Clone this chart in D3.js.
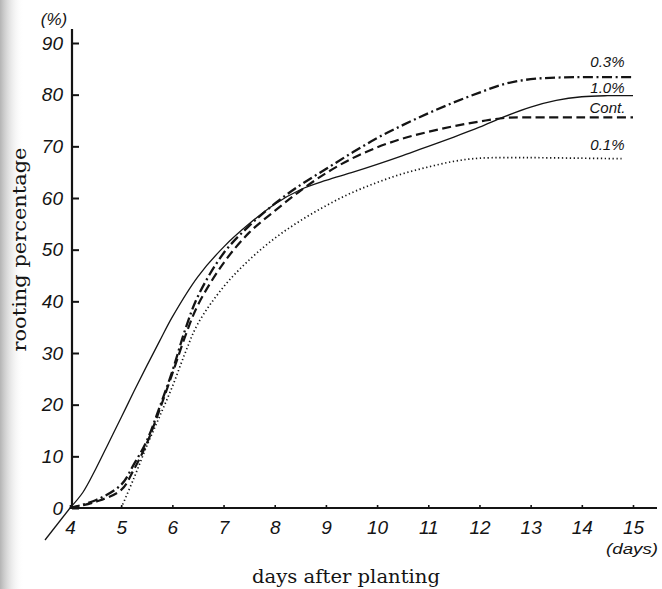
<!DOCTYPE html>
<html><head><meta charset="utf-8">
<script src="https://cdn.jsdelivr.net/npm/d3@7"></script>
<style>
html,body{margin:0;padding:0;background:#fff;}
svg{display:block;}
</style></head>
<body>
<svg id="c" width="662" height="589"></svg>
<script>
// ---- data ----
const xTicks = [4,5,6,7,8,9,10,11,12,13,14,15];
const yTicks = [0,10,20,30,40,50,60,70,80,90];
const seriesNames = ["0.3%","1.0%","Cont.","0.1%"];
// dash-dot line (0.3%)
const d03 = [4,4.5,5,5.25,5.5,5.75,6,6.25,6.5,7,7.5,8,8.5,9,9.5,10,10.5,11,11.5,12,12.5,13,13.5,14,15];
const s03 = [0,1.5,4.5,8.5,13,19.5,26.5,34.5,41,49.3,54.6,58.9,62.5,65.6,68.7,71.6,74.1,76.4,78.5,80.4,82.1,83,83.3,83.4,83.4];
// solid line (1.0%)
const d10 = [4,4.25,4.5,4.75,5,5.25,5.5,5.75,6,6.5,7,7.5,8,8.5,9,9.5,10,10.5,11,11.5,12,12.5,13,13.5,14,14.5,15];
const s10 = [0,3,7.5,12.5,17.5,22.6,27.5,32.3,37,44.8,50.5,55,58.8,61.6,63.4,64.9,66.5,68.2,70,71.8,73.7,75.8,77.6,78.9,79.6,79.8,79.8];
// dashed line (Cont.)
const dC = [4,4.5,5,5.25,5.5,5.75,6,6.25,6.5,7,7.5,8,8.5,9,9.5,10,10.5,11,11.5,12,12.5,13,14,15];
const sC = [0,1.2,3.5,7.5,12.5,19,26,33.2,39.3,47.4,53.3,57.5,61.4,64.8,67.6,69.8,71.5,72.8,73.9,74.8,75.5,75.6,75.6,75.6];
// dotted line (0.1%), starts at day 5
const d01 = [5,5.25,5.5,5.75,6,6.25,6.5,7,7.5,8,8.5,9,9.5,10,10.5,11,11.5,12,13,14,14.8];
const s01 = [0,5.8,12,17.7,23.5,30,35.7,42.8,48,52.2,55.6,58.5,61,63,64.7,66,67.1,67.7,67.8,67.7,67.6];

// ---- chart ----
const svg = d3.select("#c");
const x = d3.scaleLinear().domain([4,15]).range([70,633]);
const y = d3.scaleLinear().domain([0,90]).range([508,43]);

// scanned page shading on the left edge
const defs = svg.append("defs");
const g1 = defs.append("linearGradient").attr("id","edge").attr("x1",0).attr("x2",1);
g1.append("stop").attr("offset","0%").attr("stop-color","#b4b4b4");
g1.append("stop").attr("offset","100%").attr("stop-color","#ffffff").attr("stop-opacity",0);
svg.append("rect").attr("x",0).attr("y",0).attr("width",24).attr("height",589).attr("fill","url(#edge)");

const ink = "#141414";
const tickFont = "'Liberation Sans', 'DejaVu Sans', sans-serif";
const serif = "'DejaVu Serif','Liberation Serif',serif";

// y axis
const yAxis = d3.axisLeft(y).tickValues(yTicks).tickSizeInner(-7).tickSizeOuter(0).tickPadding(9);
const gy = svg.append("g").attr("transform",`translate(${x(4)+2},0)`).call(yAxis);
gy.select(".domain").remove();
gy.append("line").attr("x1",0).attr("x2",0).attr("y1",y(0)).attr("y2",y(90)-14)
  .attr("stroke",ink).attr("stroke-width",2.2);
gy.selectAll(".tick line").attr("stroke",ink).attr("stroke-width",2);
gy.selectAll(".tick text").attr("fill",ink).attr("font-family",tickFont)
  .attr("font-style","italic").attr("font-size",19);

// x axis
const xAxis = d3.axisBottom(x).tickValues(xTicks).tickSizeInner(-3).tickSizeOuter(0).tickPadding(13);
const gx = svg.append("g").attr("transform",`translate(0,${y(0)})`).call(xAxis);
gx.select(".domain").remove();
gx.append("line").attr("x1",x(4)).attr("x2",x(15)+24).attr("y1",0).attr("y2",0)
  .attr("stroke",ink).attr("stroke-width",1.8);
gx.selectAll(".tick line").attr("stroke",ink).attr("stroke-width",1.6);
gx.selectAll(".tick text").attr("fill",ink).attr("font-family",tickFont)
  .attr("font-style","italic").attr("font-size",19);
// handwritten slash at the origin
svg.append("line").attr("x1",x(4)).attr("y1",y(0)).attr("x2",x(4)-25).attr("y2",y(0)+32)
  .attr("stroke",ink).attr("stroke-width",1.3);

// unit labels
svg.append("text").attr("x",x(4)-16).attr("y",y(90)-18).attr("text-anchor","middle")
  .attr("font-family",tickFont).attr("font-style","italic").attr("font-size",17).attr("fill",ink).text("(%)");
svg.append("text").attr("x",x(15)-27).attr("y",y(0)+46).attr("text-anchor","start")
  .attr("font-family",tickFont).attr("font-style","italic").attr("font-size",14).attr("fill",ink)
  .attr("textLength",52).attr("lengthAdjust","spacingAndGlyphs").text("(days)");

// axis titles
svg.append("text").attr("transform",`translate(26,${(y(0)+y(90))/2 - 26}) rotate(-90)`)
  .attr("text-anchor","middle").attr("font-family",serif)
  .attr("font-size",19).attr("fill",ink).attr("textLength",204).attr("lengthAdjust","spacingAndGlyphs")
  .text("rooting percentage");
svg.append("text").attr("x",346).attr("y",583).attr("text-anchor","middle")
  .attr("font-family",serif)
  .attr("font-size",19).attr("fill",ink).attr("textLength",188).attr("lengthAdjust","spacingAndGlyphs")
  .text("days after planting");

// lines
const line = d3.line().x(d=>x(d[0])).y(d=>y(d[1])).curve(d3.curveCatmullRom.alpha(0.5));
const mk = (xs, vs) => xs.map((d,i)=>[d, vs[i]]);
const series = [
  {name:seriesNames[0], data:mk(d03,s03), dash:"10,3.5,2,3.5", w:2.3, off:-10},
  {name:seriesNames[1], data:mk(d10,s10), dash:null, w:1.3, off:-3},
  {name:seriesNames[2], data:mk(dC,sC), dash:"9,4.5", w:2.2, off:-4},
  {name:seriesNames[3], data:mk(d01,s01), dash:"1.3,2.6", w:1.7, off:-9}
];
svg.append("g").selectAll("path").data(series).join("path")
  .attr("d",d=>line(d.data)).attr("fill","none").attr("stroke",ink)
  .attr("stroke-width",d=>d.w).attr("stroke-dasharray",d=>d.dash);

// series labels (placed just above each line end)
const lab = svg.append("g").attr("font-family",tickFont).attr("font-style","italic")
  .attr("font-size",15).attr("fill",ink);
series.forEach((s)=>{
  const last = s.data[s.data.length-1];
  lab.append("text").attr("x",x(14.5)).attr("y",y(last[1])+s.off).attr("text-anchor","middle").text(s.name);
});
</script>
</body></html>
